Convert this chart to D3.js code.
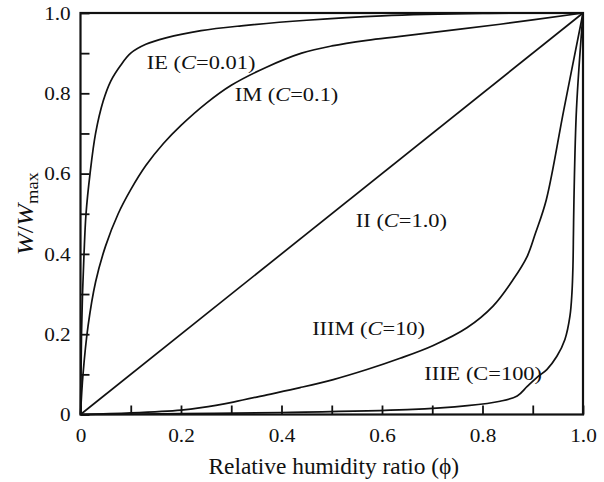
<!DOCTYPE html>
<html>
<head>
<meta charset="utf-8">
<script src="https://cdn.jsdelivr.net/npm/d3@7"></script>
<style>
  html, body { margin: 0; padding: 0; background: #fff; }
  svg { display: block; }
</style>
</head>
<body>
<svg id="chart" width="604" height="482"></svg>
<script>
// ---- data ----
const tickValues = [0, 0.1, 0.2, 0.3, 0.4, 0.5, 0.6, 0.7, 0.8, 0.9, 1.0];
const tickLabels = ["0", "", "0.2", "", "0.4", "", "0.6", "", "0.8", "", "1.0"];

const curveIE = [[0,0],[0.001,0.1],[0.002,0.2],[0.004,0.3],[0.007,0.4],[0.011,0.5],[0.019,0.6],[0.03,0.7],
  [0.045,0.78],[0.06,0.83],[0.08,0.87],[0.1,0.9],[0.13,0.922],[0.17,0.938],[0.24,0.956],[0.32,0.968],
  [0.45,0.982],[0.6,0.993],[0.8,0.999],[1,1]];
const curveIM = [[0,0],[0.005,0.1],[0.015,0.22],[0.03,0.33],[0.05,0.42],[0.075,0.5],[0.1,0.56],[0.13,0.62],
  [0.165,0.675],[0.2,0.72],[0.25,0.775],[0.3,0.82],[0.37,0.865],[0.44,0.9],[0.5,0.918],[0.57,0.932],
  [0.636,0.942],[0.835,0.972],[1,1]];
const curveII = [[0,0],[1,1]];
const curveIIIM = [[0,0],[0.1,0.004],[0.2,0.011],[0.24,0.017],[0.304,0.031],[0.371,0.049],[0.437,0.067],
  [0.503,0.087],[0.57,0.112],[0.636,0.14],[0.702,0.172],[0.769,0.216],[0.821,0.27],[0.861,0.336],
  [0.889,0.394],[0.905,0.45],[0.927,0.535],[0.962,0.76],[1,1]];
const curveIIIE = [[0,0],[0.2,0.002],[0.4,0.005],[0.65,0.012],[0.77,0.022],[0.835,0.033],[0.869,0.046],
  [0.889,0.07],[0.908,0.092],[0.928,0.112],[0.948,0.145],[0.964,0.187],[0.974,0.245],[0.978,0.303],
  [0.98,0.369],[0.981,0.452],[0.982,0.535],[0.987,0.76],[1,1]];

const seriesNames = ["IE", "IM", "II", "IIIM", "IIIE"];
const seriesC = ["0.01", "0.1", "1.0", "10", "100"];
const seriesCItalic = [true, true, true, true, false];

// ---- layout ----
const FONT = "'Liberation Serif', 'Times New Roman', Times, serif";
const SX = 1.15; // horizontal stretch of the original typesetting
const svg = d3.select("#chart");
const x = d3.scaleLinear().domain([0, 1]).range([80.5, 583]);
const y = d3.scaleLinear().domain([0, 1]).range([414.5, 13]);

// curves
const line = d3.line().x(d => x(d[0])).y(d => y(d[1])).curve(d3.curveCatmullRom.alpha(0.5));
const allCurves = [curveIE, curveIM, curveII, curveIIIM, curveIIIE];
svg.append("g").selectAll("path").data(allCurves).join("path")
  .attr("d", line)
  .attr("fill", "none")
  .attr("stroke", "#111")
  .attr("stroke-width", 1.7)
  .attr("stroke-linejoin", "round");

// axes (ticks inward)
const yAxis = d3.axisLeft(y).tickValues(tickValues)
  .tickFormat((d, i) => tickLabels[i]).tickSizeInner(-9).tickSizeOuter(0).tickPadding(0);
const xAxis = d3.axisBottom(x).tickValues(tickValues)
  .tickFormat((d, i) => tickLabels[i]).tickSizeInner(-9).tickSizeOuter(0).tickPadding(14);

const gy = svg.append("g").attr("transform", `translate(${x(0)},0)`).call(yAxis);
const gx = svg.append("g").attr("transform", `translate(0,${y(0)})`).call(xAxis);
[gx, gy].forEach(g => {
  g.select(".domain").remove();
  g.selectAll(".tick line").attr("stroke", "#111").attr("stroke-width", 1.8);
  g.selectAll(".tick text").attr("fill", "#111").style("font-family", FONT).style("font-size", "18.5px");
});
gy.selectAll(".tick text").attr("x", -8.5).attr("dy", "0.33em").attr("transform", `scale(${SX},1)`);
gx.selectAll(".tick text").attr("transform", `scale(${SX},1)`);

// frame
svg.append("rect")
  .attr("x", x(0)).attr("y", y(1))
  .attr("width", x(1) - x(0)).attr("height", y(0) - y(1))
  .attr("fill", "none").attr("stroke", "#111").attr("stroke-width", 2.2);

// annotations
const labelPos = [[0.132, 0.861], [0.307, 0.781], [0.548, 0.467], [0.461, 0.198], [0.684, 0.086]];
seriesNames.forEach((name, i) => {
  const t = svg.append("text")
    .attr("transform", `translate(${x(labelPos[i][0])},${y(labelPos[i][1])}) scale(${SX},1)`)
    .style("font-family", FONT).style("font-size", "19.5px").attr("fill", "#111");
  t.append("tspan").text(name + " (");
  t.append("tspan").text("C").style("font-style", seriesCItalic[i] ? "italic" : "normal");
  t.append("tspan").text("=" + seriesC[i] + ")");
});

// axis titles
svg.append("text")
  .attr("transform", `translate(${(x(0) + x(1)) / 2 + 2},474) scale(1.04,1)`)
  .attr("text-anchor", "middle")
  .style("font-family", FONT).style("font-size", "22.5px").attr("fill", "#111")
  .text("Relative humidity ratio (\u03D5)");

const yt = svg.append("text")
  .attr("transform", `translate(33,${y(0.5)}) rotate(-90) scale(${SX},1)`)
  .attr("text-anchor", "middle")
  .style("font-family", FONT).style("font-size", "23px").attr("fill", "#111");
yt.append("tspan").text("W").style("font-style", "italic");
yt.append("tspan").text("/");
yt.append("tspan").text("W").style("font-style", "italic");
yt.append("tspan").text("max").attr("dy", "0.3em").style("font-size", "16px");
</script>
</body>
</html>
